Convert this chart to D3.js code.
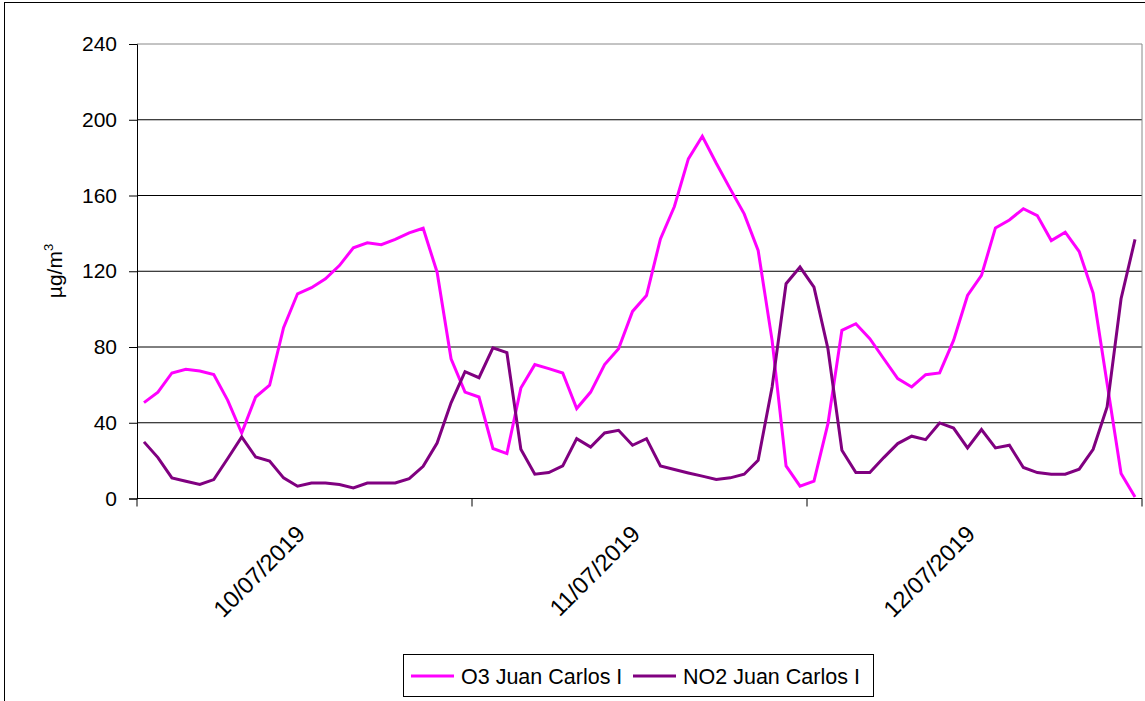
<!DOCTYPE html>
<html>
<head>
<meta charset="utf-8">
<script src="https://cdn.jsdelivr.net/npm/d3@7"></script>
<style>
  body { margin: 0; background: #fff; }
  svg { display: block; font-family: "Liberation Sans", Arial, sans-serif; }
</style>
</head>
<body>
<svg id="chart" width="1145" height="701"></svg>
<script>
// hourly values, 3 days x 24 hours
const days = ["10/07/2019", "11/07/2019", "12/07/2019"];
const o3 = [
  50.6, 56.2, 66.3, 68.2, 67.3, 65.4, 51.8, 34.6, 53.6, 59.8, 90.2, 108.1,
  111.3, 116, 123, 132.4, 135, 134, 136.8, 140.3, 142.7, 119.5, 73.8, 56.2,
  53.6, 26.4, 23.7, 58.3, 70.7, 68.6, 66.3, 47.5, 56.2, 70.7, 79.1, 98.8,
  107.2, 137.1, 154.2, 179.3, 191.3, 177, 163.5, 150.3, 131, 83.5, 17.2, 6.5,
  9.2, 39.5, 88.8, 92.3, 84.4, 73.8, 63.3, 58.9, 65.4, 66.3, 83.5, 107.2,
  117.8, 142.9, 147.1, 153, 149.4, 136.2, 140.6, 130.4, 108.4, 60.7, 13.2, 0.8
];
const no2 = [
  29.9, 21.6, 10.9, 9.1, 7.4, 10, 21.1, 32.5, 21.9, 19.8, 10.9, 6.5,
  8.2, 8.2, 7.4, 5.6, 8.2, 8.2, 8.2, 10.5, 17, 29.3, 50.5, 67,
  63.8, 79.6, 77, 26, 12.8, 13.7, 17.2, 31.6, 27.2, 34.6, 36, 28.1,
  31.6, 17.2, 15.3, 13.5, 11.8, 10, 10.9, 12.8, 20.2, 58.9, 113.4, 122.2,
  111.6, 79.1, 25.5, 13.7, 13.7, 21.6, 29, 32.9, 31.1, 39.9, 37.2, 26.7,
  36.4, 26.7, 28.1, 16.4, 13.7, 12.8, 12.8, 15.5, 26, 48.3, 105.5, 136.8
];
const yTicks = [0, 40, 80, 120, 160, 200, 240];
const seriesNames = ["O3 Juan Carlos I", "NO2 Juan Carlos I"];
const seriesColors = ["#ff00ff", "#800080"];

const plotLeft = 137, plotRight = 1142, plotTop = 44, plotBottom = 498.5;

const svg = d3.select("#chart");

// outer chart border
svg.append("rect")
    .attr("x", 4.5).attr("y", 2.5)
    .attr("width", 1160).attr("height", 720)
    .attr("fill", "none").attr("stroke", "#000").attr("stroke-width", 1);

const hours = d3.range(o3.length);
const x = d3.scaleBand().domain(hours).range([plotLeft, plotRight]);
const xDay = d3.scaleBand().domain(days).range([plotLeft, plotRight]);
const y = d3.scaleLinear().domain([0, 240]).range([plotBottom, plotTop]);

// gridlines
svg.append("g")
    .selectAll("line")
    .data(yTicks.filter(d => d > 0))
    .join("line")
    .attr("x1", plotLeft).attr("x2", plotRight)
    .attr("y1", d => y(d)).attr("y2", d => y(d))
    .attr("stroke", d => d === 240 ? "#888" : "#000")
    .attr("stroke-width", 1);

// plot area right border
svg.append("line")
    .attr("x1", plotRight).attr("x2", plotRight)
    .attr("y1", plotTop).attr("y2", plotBottom)
    .attr("stroke", "#888");

// y axis
const yAxis = svg.append("g")
    .attr("transform", `translate(${plotLeft},0)`)
    .call(d3.axisLeft(y).tickValues(yTicks).tickSize(8).tickPadding(12));
yAxis.selectAll("text")
    .style("font-size", "21px")
    .attr("fill", "#000");
yAxis.selectAll("line, path").attr("stroke", "#000");

// x axis line + day ticks
svg.append("line")
    .attr("x1", plotLeft).attr("x2", plotRight)
    .attr("y1", plotBottom).attr("y2", plotBottom)
    .attr("stroke", "#000");

const tickPos = days.map(d => xDay(d)).concat([plotRight]);
svg.append("g")
    .selectAll("line")
    .data(tickPos)
    .join("line")
    .attr("x1", d => d).attr("x2", d => d)
    .attr("y1", plotBottom).attr("y2", plotBottom + 8)
    .attr("stroke", "#000");

svg.append("g")
    .selectAll("text")
    .data(days)
    .join("text")
    .attr("transform", d => `translate(${xDay(d) + xDay.bandwidth() / 2 + 2},${plotBottom + 37}) rotate(-45)`)
    .attr("text-anchor", "end")
    .style("font-size", "23.5px")
    .text(d => d);

// y axis title
svg.append("text")
    .attr("transform", `translate(62,271) rotate(-90)`)
    .attr("text-anchor", "middle")
    .style("font-size", "21px")
    .html('µg/m<tspan dy="-9" style="font-size:13px">3</tspan>');

// lines
const line = d3.line()
    .x((d, i) => x(i) + x.bandwidth() / 2)
    .y(d => y(d));

[o3, no2].forEach((s, k) => {
  svg.append("path")
      .datum(s)
      .attr("fill", "none")
      .attr("stroke", seriesColors[k])
      .attr("stroke-width", 3)
      .attr("stroke-linejoin", "miter")
      .attr("d", line);
});

// legend
const legend = svg.append("g");
legend.append("rect")
    .attr("x", 403.5).attr("y", 654.5)
    .attr("width", 470).attr("height", 42)
    .attr("fill", "#fff").attr("stroke", "#000");

const legendX = [411, 633];
seriesNames.forEach((name, k) => {
  legend.append("line")
      .attr("x1", legendX[k]).attr("x2", legendX[k] + 43)
      .attr("y1", 676).attr("y2", 676)
      .attr("stroke", seriesColors[k]).attr("stroke-width", 3);
  legend.append("text")
      .attr("x", legendX[k] + 50).attr("y", 684)
      .style("font-size", "21.5px")
      .text(name);
});
</script>
</body>
</html>
